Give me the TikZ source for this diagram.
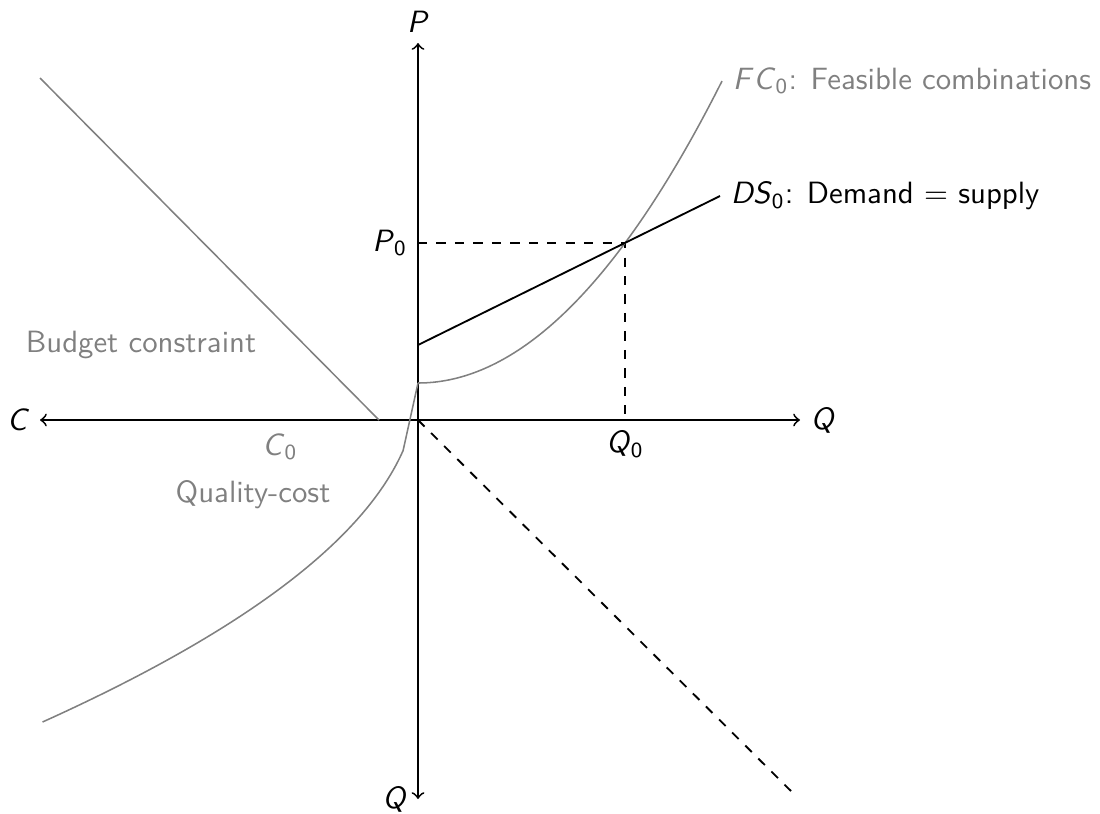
\documentclass[tikz,border=0pt]{standalone}
\newcommand{\vsub}[2]{\textit{#1}\textsubscript{#2}}
\begin{document}
\begin{tikzpicture}[x=0.325pt,y=-0.325pt,
  every node/.style={font=\sffamily},
  axis/.style={line width=0.6pt,<->},
  guide/.style={dashed,line width=0.6pt},
  curve/.style={gray,line width=0.5pt},
  dsline/.style={black,line width=0.6pt},
  glabel/.style={text=gray}]
\useasboundingbox (0,0) rectangle (1100,813);
% key points
\coordinate (O) at (418,420);
\coordinate (Ptop) at (418,43);
\coordinate (Qbot) at (418,799);
\coordinate (Cleft) at (40,420);
\coordinate (Qright) at (800,420);
\coordinate (P0c) at (418,243);
\coordinate (Q0c) at (625,420);
\coordinate (E) at (625,243);
\coordinate (DSstart) at (418,345);
\coordinate (DSend) at (720,196);
\coordinate (FCend) at (722,81);
\coordinate (FCstart) at (418,383);
\coordinate (QCkink) at (403,451);
\coordinate (BCtop) at (40,78);
\coordinate (BCbot) at (379,420);
\coordinate (Diag) at (797,797);
% axes
\draw[axis] (Qbot) -- (Ptop);
\draw[axis] (Cleft) -- (Qright);
% dashed guides
\draw[guide] (P0c) -- (E) -- (Q0c);
\draw[guide] (O) -- (Diag);
% budget constraint
\draw[curve] (BCtop) -- (BCbot);
% feasible combinations
\draw[curve] plot[smooth,samples=40,domain=0:304] ({418+\x},{383-32.673*(\x/100)*(\x/100)});
% quality-cost
\draw[curve,line join=round] (FCstart) -- (QCkink)
  plot[smooth,samples=40,domain=67.8:339] ({418-32.673*(\x/100)*(\x/100)},{383+\x});
% demand = supply
\draw[dsline] (DSstart) -- (DSend);
% labels
\node[left] (lC) at (Cleft) {\textit{C}};
\node[above] (lP) at (Ptop) {\textit{P}};
\node[right] (lQr) at (Qright) {\textit{Q}};
\node[left] (lQb) at (Qbot) {\textit{Q}};
\node[left] (lP0) at (P0c) {\vsub{P}{0}};
\node[below] (lQ0) at (Q0c) {\vsub{Q}{0}};
\node[right,glabel] (lFC) at (FCend) {\vsub{F\kern1pt C}{0}: Feasible combinations};
\node[right] (lDS) at (DSend) {\vsub{DS}{0}: Demand $=$ supply};
\node[glabel] (lBC) at (141,345) {Budget constraint};
\node[glabel] (lC0) at (280,447) {\vsub{C}{0}};
\node[glabel] (lQC) at (253,495) {Quality-cost};
\end{tikzpicture}
\end{document}
